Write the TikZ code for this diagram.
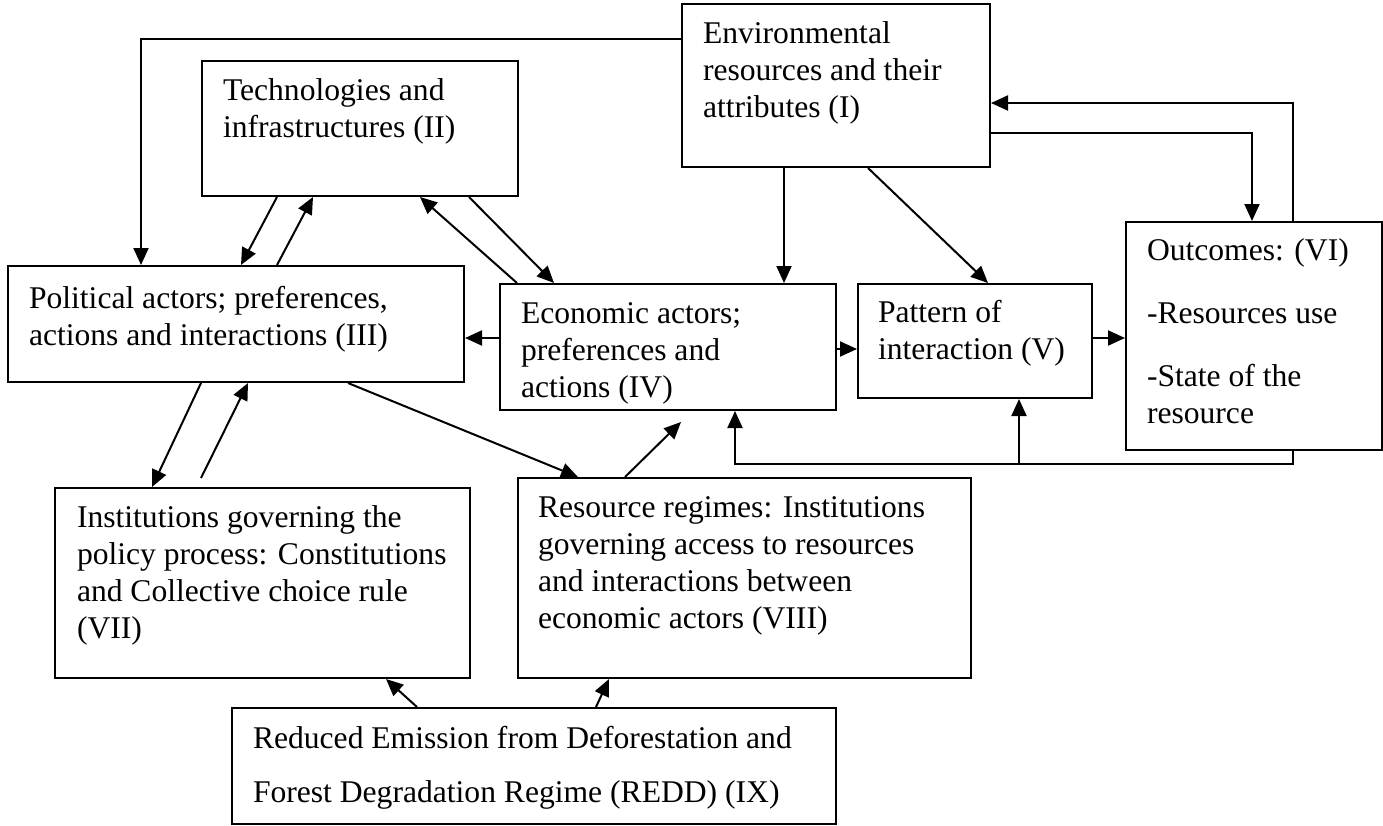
\documentclass[tikz,border=0pt]{standalone}
\usepackage{fontspec}
\setmainfont{Liberation Serif}
\usetikzlibrary{arrows.meta, positioning}

\begin{document}
\begin{tikzpicture}[x=1pt, y=-1pt, >={Triangle[length=17pt, width=15pt]}, line width=2pt,
	box/.style={draw, rectangle, anchor=north west, inner sep=0pt, font=\fontsize{31.6}{37}\selectfont}]
	
	\useasboundingbox (0,0) rectangle (1383,825);
	
	% the boxes (I) to (IX)
	\node[box] (env) at (681,3) {\parbox[t][163pt][t]{308pt}{\raggedright\leftskip=21pt\relax\vspace*{14pt}\strut Environmental\\resources and their\\attributes (I)}};
	\node[box] (tech) at (201,60) {\parbox[t][135pt][t]{316pt}{\raggedright\leftskip=21pt\relax\vspace*{14pt}\strut Technologies and\\infrastructures (II)}};
	\node[box] (pol) at (7,265) {\parbox[t][116pt][t]{456pt}{\raggedright\leftskip=21pt\relax\vspace*{17pt}\strut Political actors; preferences,\\actions and interactions (III)}};
	\node[box] (eco) at (499,283) {\parbox[t][126pt][t]{336pt}{\raggedright\leftskip=21pt\relax\vspace*{14pt}\strut Economic actors;\\preferences and\\actions (IV)}};
	\node[box] (pat) at (857,283) {\parbox[t][114pt][t]{234pt}{\raggedright\leftskip=20pt\relax\vspace*{13pt}\strut Pattern of\\interaction (V)}};
	\node[box] (out) at (1125,221) {\parbox[t][228pt][t]{256pt}{\raggedright\leftskip=21pt\relax\vspace*{13pt}\strut Outcomes: (VI)\\[26pt]-Resources use\\[26pt]-State of the\\resource}};
	\node[box] (inst) at (54,487) {\parbox[t][190pt][t]{415pt}{\raggedright\leftskip=22pt\relax\vspace*{14pt}\strut Institutions governing the\\policy process: Constitutions\\and Collective choice rule\\(VII)}};
	\node[box] (res) at (517,477) {\parbox[t][200pt][t]{453pt}{\raggedright\leftskip=20pt\relax\vspace*{14pt}\strut Resource regimes: Institutions\\governing access to resources\\and interactions between\\economic actors (VIII)}};
	\node[box] (redd) at (231,707) {\parbox[t][116pt][t]{604pt}{\raggedright\leftskip=21pt\relax\vspace*{15pt}\strut Reduced Emission from Deforestation and\\[17pt]Forest Degradation Regime (REDD) (IX)}};
	
	% links from (I)
	\draw[->] ([yshift=-36pt]env.north west) -| ([xshift=134pt]pol.north west);
	\draw[->] ([xshift=103pt]env.south west) -- ([xshift=285pt]eco.north west);
	\draw[->] ([xshift=187pt]env.south west) -- ([xshift=131pt]pat.north west);
	\draw[->] ([yshift=-130pt]env.north east) -| ([xshift=127pt]out.north west);
	\draw[->] ([xshift=168pt]out.north west) |- ([yshift=-100pt]env.north east);
	
	% (II) with (III) and (IV)
	\draw[->] ([xshift=76pt]tech.south west) -- ([xshift=234pt]pol.north west);
	\draw[->] ([xshift=270pt]pol.north west) -- ([xshift=112pt]tech.south west);
	\draw[->] ([xshift=18pt]eco.north west) -- ([xshift=219pt]tech.south west);
	\draw[->] ([xshift=268pt]tech.south west) -- ([xshift=55pt]eco.north west);
	
	% middle row
	\draw[->] ([yshift=-55pt]eco.north west) -- ([yshift=-73pt]pol.north east);
	\draw[->] ([yshift=-66pt]eco.north east) -- ([yshift=-66pt]pat.north west);
	\draw[->] ([yshift=-55pt]pat.north east) -- ([yshift=-117pt]out.north west);
	
	% feedback from (VI)
	\draw[->] ([xshift=168pt]out.south west) |- ([xshift=236pt, yshift=-53pt]eco.south west) -- ([xshift=236pt]eco.south west);
	\draw[->] ([xshift=162pt, yshift=-65pt]pat.south west) -- ([xshift=162pt]pat.south west);
	
	% institutions
	\draw[->] ([xshift=194pt]pol.south west) -- ([xshift=98pt]inst.north west);
	\draw[->] ([xshift=147pt, yshift=9pt]inst.north west) -- ([xshift=241pt]pol.south west);
	\draw[->] ([xshift=341pt]pol.south west) -- ([xshift=61pt]res.north west);
	\draw[->] ([xshift=108pt]res.north west) -- ([xshift=182pt, yshift=-11pt]eco.south west);
	
	% REDD
	\draw[->] ([xshift=186pt]redd.north west) -- ([xshift=332pt]inst.south west);
	\draw[->] ([xshift=365pt]redd.north west) -- ([xshift=92pt]res.south west);
	
\end{tikzpicture}
\end{document}
